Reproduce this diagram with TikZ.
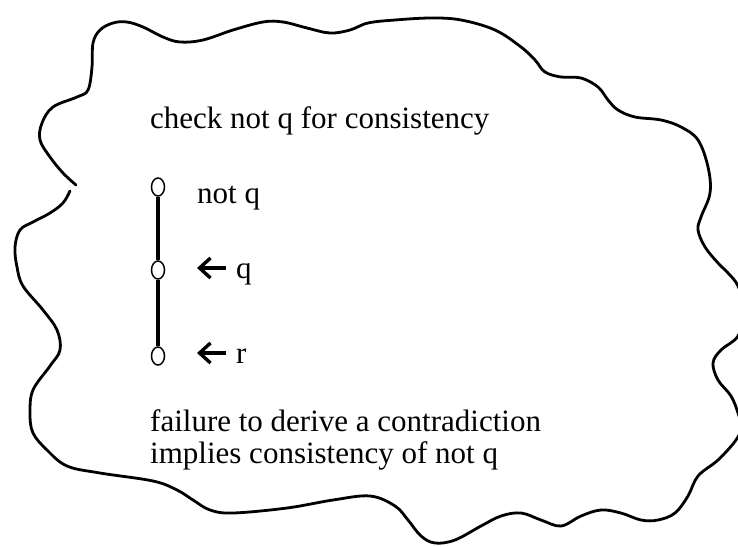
\documentclass[tikz,border=0pt]{standalone}
\usepackage{fontspec}
\setmainfont{Liberation Serif}
\usepackage{tikz}
\usetikzlibrary{arrows.meta,positioning,shapes.geometric}

\begin{document}
\begin{tikzpicture}[x=1pt,y=-1pt,
  txt/.style={anchor=base west,inner sep=0pt,font=\fontsize{31}{33}\selectfont},
  vx/.style={ellipse,draw,line width=1.5pt,fill=white,inner sep=0pt,
             minimum width=13pt,minimum height=18pt},
  edge/.style={line width=3.2pt},
  arr/.style={-{Straight Barb[length=11pt,width=20pt]},line width=3.4pt,shorten <=10pt},
  cloud/.style={line width=2.8pt,line join=round,line cap=round}
]
\useasboundingbox (0,0) rectangle (738,546);
\clip (0,0) rectangle (738,546);
% outline
\draw[cloud] plot[smooth,tension=0.6] coordinates {
  (70,191) (63,203) (50,213) (33,222) (20,230) (15,247) (17,267) (23,286)
  (43,310) (57,330) (60,350) (50,366) (33,390) (30,413) (33,433) (47,450)
  (67,466) (100,473) (153,481) (177,490) (193,500) (210,510) (233,513)
  (287,508) (333,500) (370,496) (395,506) (408,520) (421,536) (435,543)
  (455,540) (481,526) (501,516) (521,513) (541,520) (561,526) (581,516)
  (601,510) (621,513) (641,520) (658,520) (675,513) (688,496) (698,476)
  (718,460) (736,440) (741,427) (738,413) (731,396) (718,380) (713,363)
  (721,350) (738,336) (745,311) (738,286) (728,273) (718,263) (705,247)
  (698,230) (701,217) (710,193) (708,167) (698,140) (681,127) (661,120)
  (635,117) (618,110) (608,100) (598,87) (581,78) (561,77) (545,72)
  (535,60) (521,47) (495,30) (461,20) (431,18) (395,20) (368,23) (350,30)
  (330,33) (307,28) (283,22) (263,22) (233,30) (203,40) (180,42) (163,37)
  (143,27) (127,22) (113,23) (100,30) (93,43) (92,67) (88,90) (77,97)
  (53,107) (42,123) (40,140) (50,157) (63,173) (76,185)};

\node[txt] (head) at (150,128) {check not q for consistency};

% refutation path
\node[vx] (v1) at (158,187) {};
\node[vx] (v2) at (158,270) {};
\node[vx] (v3) at (158,356) {};
\draw[edge] (v1) -- (v2) -- (v3);

\node[txt] (nq) at (197,203) {not q};
\node[txt] (lq) at (236,278) {q};
\node[txt] (lr) at (236,363) {r};
\coordinate (aq) at (197,268);
\coordinate (ar) at (197,353);
\draw[arr] (lq.west |- aq) -- (aq);
\draw[arr] (lr.west |- ar) -- (ar);

\node[txt] (fail) at (150,431) {failure to derive a contradiction};
\node[txt] (impl) at (150,463) {implies consistency of not q};
\end{tikzpicture}
\end{document}
